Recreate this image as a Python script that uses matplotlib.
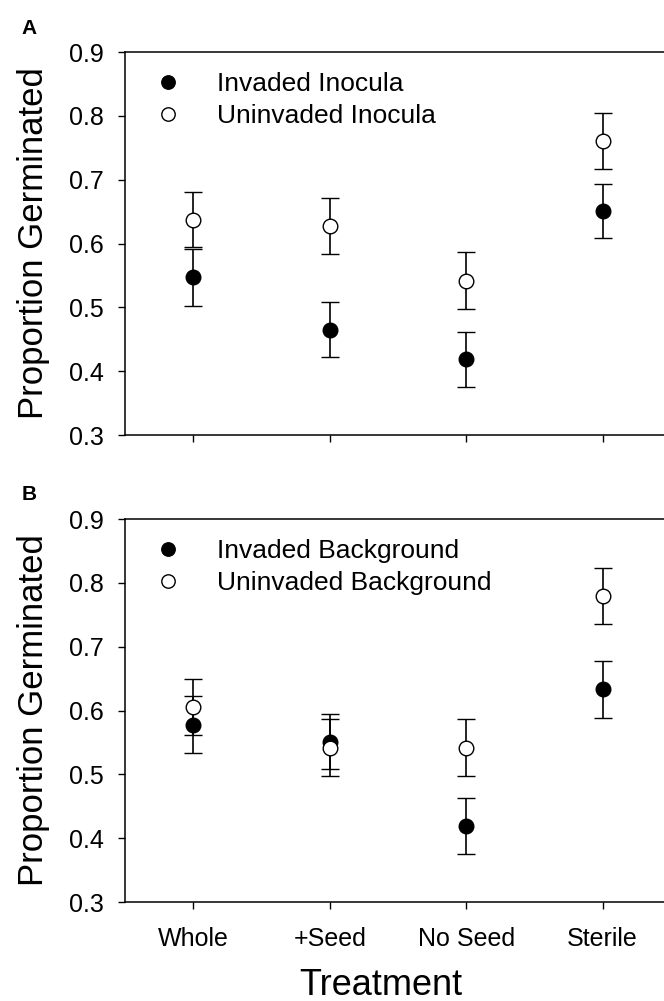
import matplotlib.pyplot as plt
import numpy as np

# Data
treatments = ["Whole", "+Seed", "No Seed", "Sterile"]

a_invaded = [0.547, 0.465, 0.419, 0.651]
a_invaded_err = [0.045, 0.043, 0.043, 0.043]
a_uninvaded = [0.637, 0.628, 0.542, 0.760]
a_uninvaded_err = [0.043, 0.044, 0.044, 0.044]

b_invaded = [0.578, 0.551, 0.419, 0.633]
b_invaded_err = [0.044, 0.043, 0.044, 0.044]
b_uninvaded = [0.605, 0.542, 0.542, 0.779]
b_uninvaded_err = [0.044, 0.044, 0.044, 0.044]

plt.rcParams["font.family"] = ["Liberation Sans", "DejaVu Sans"]

fig = plt.figure(figsize=(6.64, 10.01), dpi=100)
ax_a = fig.add_axes([0.1883, 0.5654, 0.8117, 0.3826])
ax_b = fig.add_axes([0.1883, 0.0989, 0.8117, 0.3826])

x = np.arange(1, len(treatments) + 1)

panels = [
    (ax_a, a_invaded, a_invaded_err, a_uninvaded, a_uninvaded_err,
     "Invaded Inocula", "Uninvaded Inocula", "A"),
    (ax_b, b_invaded, b_invaded_err, b_uninvaded, b_uninvaded_err,
     "Invaded Background", "Uninvaded Background", "B"),
]

for ax, inv, inv_e, un, un_e, lab1, lab2, letter in panels:
    ax.errorbar(x, inv, yerr=inv_e, fmt="o", color="black", mfc="black",
                mec="black", ms=10.5, mew=1, capsize=6.5, elinewidth=1.2,
                capthick=1.2, label=lab1, zorder=3)
    ax.errorbar(x, un, yerr=un_e, fmt="o", color="black", mfc="white",
                mec="black", ms=10.5, mew=1, capsize=6.5, elinewidth=1.2,
                capthick=1.2, label=lab2, zorder=4)

    ax.set_xlim(0.5, 4.45)
    ax.set_ylim(0.3, 0.9)
    ticks = np.arange(0.3, 0.91, 0.1)
    ax.set_yticks(ticks)
    ax.set_yticklabels([f"{v:.1f}" for v in ticks])
    ax.set_xticks(x)
    ax.spines["right"].set_visible(False)
    for s in ax.spines.values():
        s.set_linewidth(1.1)
    ax.tick_params(direction="out", length=5, width=1, labelsize=18)
    ax.tick_params(axis="y", pad=10)
    ax.set_ylabel("Proportion Germinated", fontsize=25)
    ax.yaxis.set_label_coords(-0.139, 0.5)

    handles, labels = ax.get_legend_handles_labels()
    handles = [h[0] for h in handles]
    ax.legend(handles, labels, loc="upper left", bbox_to_anchor=(0.004, 1.003),
              frameon=False, fontsize=19, handletextpad=1.1, markerscale=0.92,
              labelspacing=0.32, handlelength=1.5, borderpad=0.3)

    fig.text(0.033, ax.get_position().y1 + 0.024, letter, fontsize=15,
             fontweight="bold", va="center", ha="left")

ax_a.set_xticklabels([])
ax_b.set_xticklabels(treatments)
ax_b.tick_params(axis="x", pad=13)
ax_b.set_xlabel("Treatment", fontsize=26)
ax_b.xaxis.set_label_coords(0.475, -0.172)
ax_b.xaxis.label.set_va("top")

fig.savefig("out.png", dpi=100)
